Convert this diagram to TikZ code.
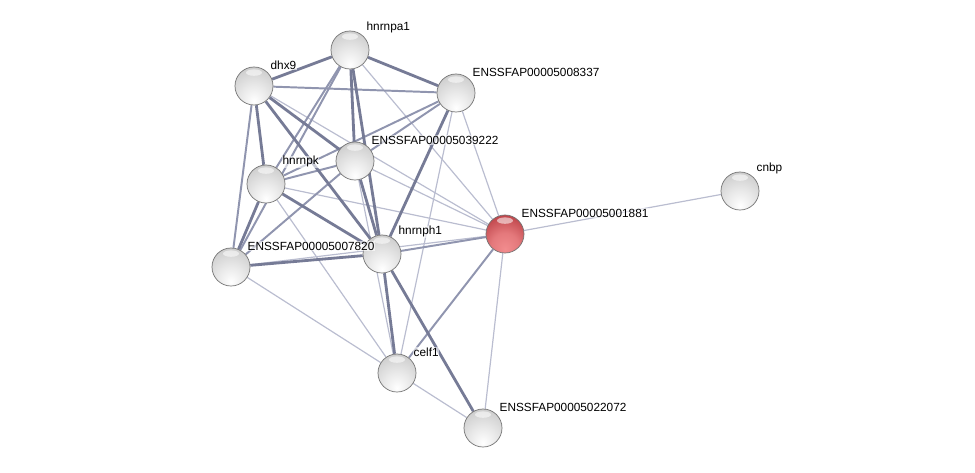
\documentclass[tikz,border=0pt]{standalone}
\usepackage{fontspec}
\setmainfont{Liberation Sans}
\usetikzlibrary{backgrounds}
\definecolor{edgestrong}{RGB}{118, 123, 150}
\definecolor{edgemid}{RGB}{144, 149, 175}
\definecolor{edgeweak}{RGB}{186, 189, 208}
\definecolor{redlight}{RGB}{242, 140, 142}
\definecolor{reddark}{RGB}{186, 62, 68}
\pgfdeclareradialshading{glossgray}{\pgfpoint{0bp}{-20bp}}{color(0bp)=(white); color(18bp)=(gray!18); color(40bp)=(gray!42); color(62bp)=(gray!62); color(100bp)=(gray!62)}
\pgfdeclareradialshading{glossred}{\pgfpoint{0bp}{-20bp}}{color(0bp)=(redlight); color(18bp)=(redlight!75!reddark); color(40bp)=(reddark); color(62bp)=(reddark!75!black); color(100bp)=(reddark!75!black)}
\tikzset{
    prot/.style={circle, minimum size=0.95cm, inner sep=0pt, shading=glossgray, draw=black!55, line width=0.5pt,
        path picture={\fill[white, opacity=0.55] ([yshift=-0.14cm]path picture bounding box.north) ellipse (0.2cm and 0.08cm);}},
    seed/.style={prot, shading=glossred},
    lbl/.style={font=\fontsize{8.4pt}{9pt}\selectfont, inner sep=0.5pt, fill=white, fill opacity=0.6, text opacity=1, label distance=0.07cm},
    strong/.style={edgestrong, line width=2pt},
    mid/.style={edgemid, line width=1.4pt},
    weak/.style={edgeweak, line width=0.85pt}
}
\begin{document}
\begin{tikzpicture}[x=0.025cm, y=-0.025cm]
        \useasboundingbox (0,0) rectangle (975,473);

        % Proteins
        \node[prot, label={[lbl]45:hnrnpa1}] (a1) at (350,50) {};
        \node[prot, label={[lbl]45:dhx9}] (dhx) at (254,86) {};
        \node[prot, label={[lbl]45:ENSSFAP00005008337}] (e8337) at (456,93) {};
        \node[prot, label={[lbl]45:ENSSFAP00005039222}] (e39222) at (355,161) {};
        \node[prot, label={[lbl]45:hnrnpk}] (hk) at (266,184) {};
        \node[prot, label={[lbl]45:cnbp}] (cnbp) at (740,191) {};
        \node[seed, label={[lbl]45:ENSSFAP00005001881}] (e1881) at (505,234) {};
        \node[prot, label={[lbl]45:hnrnph1}] (h1) at (382,254) {};
        \node[prot, label={[lbl]45:ENSSFAP00005007820}] (e7820) at (231,267) {};
        \node[prot, label={[lbl]45:celf1}] (celf) at (397,373) {};
        \node[prot, label={[lbl]45:ENSSFAP00005022072}] (e22072) at (483,428) {};

        % Interactions
        \begin{scope}[on background layer]
            \foreach \u/\v in {a1/e1881, dhx/e1881, e8337/e1881, e39222/e1881, hk/e1881, e7820/e1881,
                e8337/celf, e39222/celf, hk/celf, e7820/celf, e1881/e22072, e1881/cnbp, celf/e22072}
                \draw[weak] (\u) -- (\v);
            \foreach \u/\v in {dhx/e8337, dhx/e7820, a1/hk, a1/e7820, e8337/e39222, e8337/hk,
                e39222/hk, e39222/e7820, e1881/celf, h1/e1881}
                \draw[mid] (\u) -- (\v);
            \foreach \u/\v in {a1/dhx, a1/e8337, a1/e39222, a1/h1, dhx/hk, dhx/h1, dhx/e39222,
                e8337/h1, e39222/h1, hk/e7820, hk/h1, e7820/h1, h1/celf, h1/e22072}
                \draw[strong] (\u) -- (\v);
        \end{scope}
    \end{tikzpicture}
\end{document}
